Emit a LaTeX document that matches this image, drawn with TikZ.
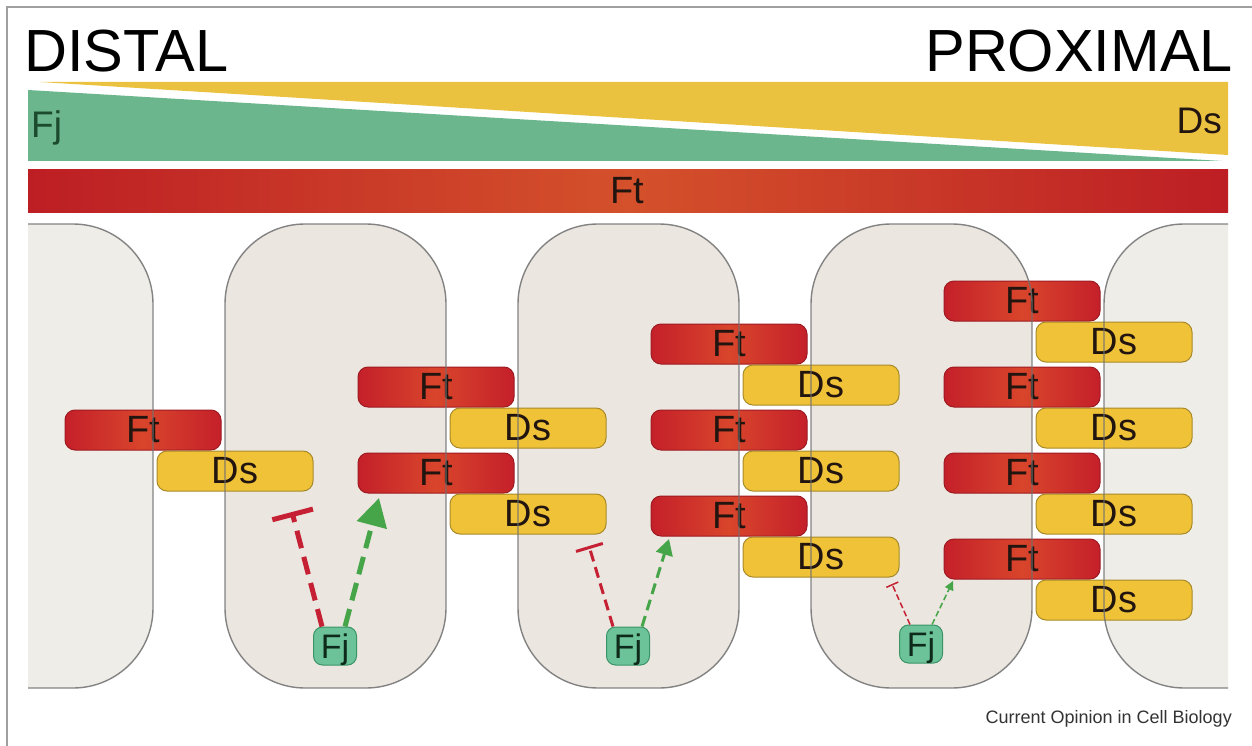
\documentclass[tikz,border=0pt]{standalone}
\usepackage{fontspec}
\setmainfont{Liberation Sans}
\usetikzlibrary{arrows.meta,calc}
\definecolor{ftred}{HTML}{C4202A}
\definecolor{ftmid}{HTML}{D9452B}
\definecolor{ftborder}{HTML}{9E1B22}
\definecolor{barleft}{HTML}{BD1E24}
\definecolor{barmid}{HTML}{D4512B}
\definecolor{dsyellow}{HTML}{EFC237}
\definecolor{dsborder}{HTML}{A88A2A}
\definecolor{bandyellow}{HTML}{EBC23F}
\definecolor{bandgreen}{HTML}{6BB68D}
\definecolor{fjfill}{HTML}{6CC39A}
\definecolor{fjborder}{HTML}{3A9467}
\definecolor{fjtext}{HTML}{0E2A1A}
\definecolor{bandfj}{HTML}{1C4A2C}
\definecolor{cellfill}{HTML}{EBE6E0}
\definecolor{outercell}{HTML}{EFEDE7}
\definecolor{cellline}{HTML}{707070}
\definecolor{redarrow}{HTML}{C52033}
\definecolor{greenarrow}{HTML}{46A548}
\definecolor{txtdark}{HTML}{221510}
\newcommand\lblfont{\fontsize{38}{40}\selectfont}
\newcommand\fjfont{\fontsize{34}{36}\selectfont}
\newcommand\headfont{\fontsize{59.5}{62}\selectfont}
\newcommand\bandfont{\fontsize{37}{40}\selectfont}
\newcommand\capfont{\fontsize{18}{20}\selectfont}
\tikzset{
  ftbox/.style={draw=ftborder, line width=1pt, rounded corners=10pt,
    minimum width=156pt, minimum height=40pt, inner sep=0pt,
    left color=ftred, right color=ftred, middle color=ftmid,
    font=\lblfont, text=txtdark},
  dsbox/.style={draw=dsborder, line width=1pt, rounded corners=10pt,
    minimum width=156pt, minimum height=40pt, inner sep=0pt,
    fill=dsyellow, font=\lblfont, text=txtdark},
  fjbox/.style={draw=fjborder, line width=1pt, rounded corners=9pt,
    minimum width=43pt, minimum height=38pt, inner sep=0pt, text depth=0pt,
    fill=fjfill, font=\fjfont, text=fjtext},
  cellshape/.style={rounded corners=80pt},
  inhA/.style={draw=redarrow, line width=5pt, dash pattern=on 18pt off 9pt,
    -{Bar[width=42pt]}},
  actA/.style={draw=greenarrow, line width=5pt, dash pattern=on 18pt off 9pt,
    -{Triangle[width=30pt,length=28pt]}},
  inhB/.style={draw=redarrow, line width=3pt, dash pattern=on 11pt off 6pt,
    -{Bar[width=28pt]}},
  actB/.style={draw=greenarrow, line width=3pt, dash pattern=on 11pt off 6pt,
    -{Triangle[width=17pt,length=16pt]}},
  inhC/.style={draw=redarrow, line width=1.5pt, dash pattern=on 6pt off 3pt,
    -{Bar[width=13pt]}},
  actC/.style={draw=greenarrow, line width=1.5pt, dash pattern=on 6pt off 3pt,
    -{Triangle[width=9pt,length=9pt]}},
}
\begin{document}
\begin{tikzpicture}[x=1pt,y=-1pt]
\useasboundingbox (0,0) rectangle (1252,746);
\fill[white] (0,0) rectangle (1252,746);
% frame
\draw[gray!75, line width=1.2pt] (7,746) -- (7,7) -- (1252,7);
% headings
\node[anchor=base west, inner sep=0pt, font=\headfont] (distal) at (24,72) {DISTAL};
\node[anchor=base east, inner sep=0pt, font=\headfont] (proximal) at (1233,72) {PROXIMAL};
% gradient bands
\fill[bandyellow] (40,82) -- (1228,82) -- (1228,155) -- cycle;
\fill[bandgreen] (28,90) -- (1222,161) -- (28,161) -- cycle;
\node[anchor=base west, inner sep=0pt, font=\bandfont, text=bandfj] (fjband) at (31,138) {Fj};
\node[anchor=base east, inner sep=0pt, font=\bandfont, text=txtdark] (dsband) at (1222,134) {Ds};
% Ft bar
\shade[left color=barleft, right color=barleft, middle color=barmid] (28,170) rectangle (1228,212);
\node[anchor=base, inner sep=0pt, font=\lblfont, text=txtdark] (ftbar) at (627,204) {Ft};
% cells (fills)
\begin{scope}
  \clip (28,0) rectangle (1228,746);
  \foreach \l/\c in {-68/outercell,225/cellfill,518/cellfill,811/cellfill,1104/outercell}
    \fill[\c, cellshape] (\l,224) rectangle ++(221,464);
\end{scope}
% Ft / Ds pairs
\foreach \fx/\fy/\n in {143/430/a1,
    436/387/b1, 436/473/b2,
    729/344/c1, 729/430/c2, 729/516/c3,
    1022/301/d1, 1022/387/d2, 1022/473/d3, 1022/559/d4}{
  \node[ftbox] (ft\n) at (\fx,\fy) {Ft};
  \node[dsbox] (ds\n) at (\fx+92,\fy+41) {Ds};
}
% cell outlines
\begin{scope}
  \clip (28,0) rectangle (1228,746);
  \foreach \l in {-68,225,518,811,1104}
    \draw[cellline, line width=1.4pt, cellshape, opacity=0.85] (\l,224) rectangle ++(221,464);
\end{scope}
% Fj nodes
\node[fjbox] (fj1) at (335,646) {Fj};
\node[fjbox] (fj2) at (628,646) {Fj};
\node[fjbox] (fj3) at (921,644) {Fj};
% arrow ends
\coordinate (r1) at (292,512);
\coordinate (g1) at (379,498);
\coordinate (r2) at (589,546);
\coordinate (g2) at (669,539);
\coordinate (r3) at (892,584);
\coordinate (g3) at (953,581);
\draw[inhA] ($(fj1.north)+(-13,0)$) -- (r1);
\draw[actA] ($(fj1.north)+(10,0)$) -- (g1);
\draw[inhB] ($(fj2.north)+(-15,0)$) -- (r2);
\draw[actB] ($(fj2.north)+(14,0)$) -- (g2);
\draw[inhC] ($(fj3.north)+(-11,0)$) -- (r3);
\draw[actC] ($(fj3.north)+(11,0)$) -- (g3);
% caption
\node[anchor=east, inner sep=0pt, font=\capfont, text=black!80] (caption) at (1232,719) {Current Opinion in Cell Biology};
\end{tikzpicture}
\end{document}
